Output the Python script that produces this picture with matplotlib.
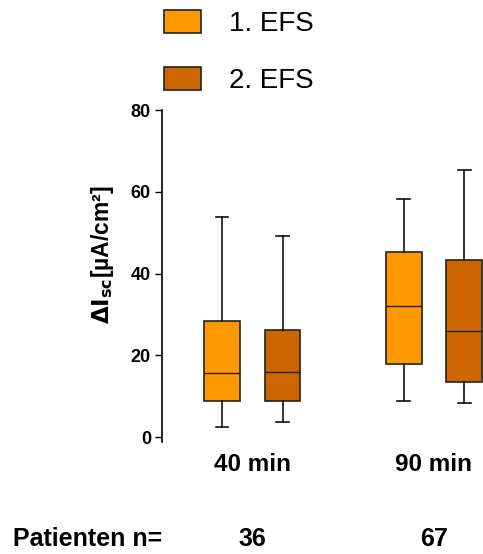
import matplotlib
matplotlib.use("Agg")
import matplotlib.pyplot as plt
from matplotlib.patches import Patch
import matplotlib.transforms as mtransforms

plt.rcParams['font.family'] = ['Liberation Sans', 'DejaVu Sans']

# box stats: 40 min / 90 min, 1. EFS and 2. EFS
groups = ["40 min", "90 min"]
n_patients = [36, 67]
series = ["1. EFS", "2. EFS"]
colors = ["#FF9900", "#CC6600"]
whislo = [[2.5, 8.8], [3.7, 8.4]]
q1 = [[8.9, 17.8], [8.9, 13.5]]
med = [[15.6, 32.0], [15.9, 25.9]]
q3 = [[28.5, 45.2], [26.1, 43.4]]
whishi = [[53.9, 58.2], [49.2, 65.3]]

fig = plt.figure(figsize=(4.83, 5.54), dpi=100)
ax = fig.add_axes([0.3354, 0.2022, 0.6646, 0.5992])

group_pos = [0, 3]
for s in range(len(series)):
    stats = []
    for g in range(len(groups)):
        stats.append({"whislo": whislo[s][g], "q1": q1[s][g], "med": med[s][g],
                      "q3": q3[s][g], "whishi": whishi[s][g], "fliers": []})
    pos = [p + s for p in group_pos]
    ax.bxp(stats, positions=pos, widths=0.59, capwidths=0.21, patch_artist=True,
           showfliers=False,
           boxprops=dict(facecolor=colors[s], edgecolor="#222222", linewidth=1.2),
           medianprops=dict(color="#222222", linewidth=1.0),
           whiskerprops=dict(color="#111111", linewidth=1.2),
           capprops=dict(color="#111111", linewidth=1.2))

ax.set_xlim(-0.99, 4.31)
ax.set_ylim(-1.2, 80)
ax.set_yticks([0, 20, 40, 60, 80])
for side in ["top", "right", "bottom"]:
    ax.spines[side].set_visible(False)
ax.spines["left"].set_linewidth(1.2)
ax.tick_params(axis="y", direction="out", length=5, width=1.0, pad=3, labelsize=13)
for lab in ax.get_yticklabels():
    lab.set_fontweight("bold")

ax.set_xticks([p + 0.5 for p in group_pos])
ax.set_xticklabels(groups, fontsize=17.5, fontweight="bold")
ax.tick_params(axis="x", length=0, pad=8)

ax.set_ylabel(r"$\mathbf{\Delta I_{sc}}$[µA/cm²]", fontsize=16.5, fontweight="bold")
ax.yaxis.set_label_coords(-0.142, 0.565)

# patient counts below the groups
trans = mtransforms.blended_transform_factory(ax.transData, fig.transFigure)
fig.text(0.027, 0.027, "Patienten n=", fontsize=18, fontweight="bold", va="center", ha="left")
for p, n in zip(group_pos, n_patients):
    ax.text(p + 0.5, 0.027, str(n), transform=trans, fontsize=18, fontweight="bold",
            ha="center", va="center", clip_on=False)

handles = [Patch(facecolor=c, edgecolor="#222222", linewidth=1.2) for c in colors]
fig.legend(handles, series, loc="upper left", bbox_to_anchor=(0.288, 1.027), frameon=False,
           fontsize=20, handlelength=1.33, handleheight=0.9, handletextpad=1.0,
           labelspacing=1.08)

fig.savefig("out.png", dpi=100)
